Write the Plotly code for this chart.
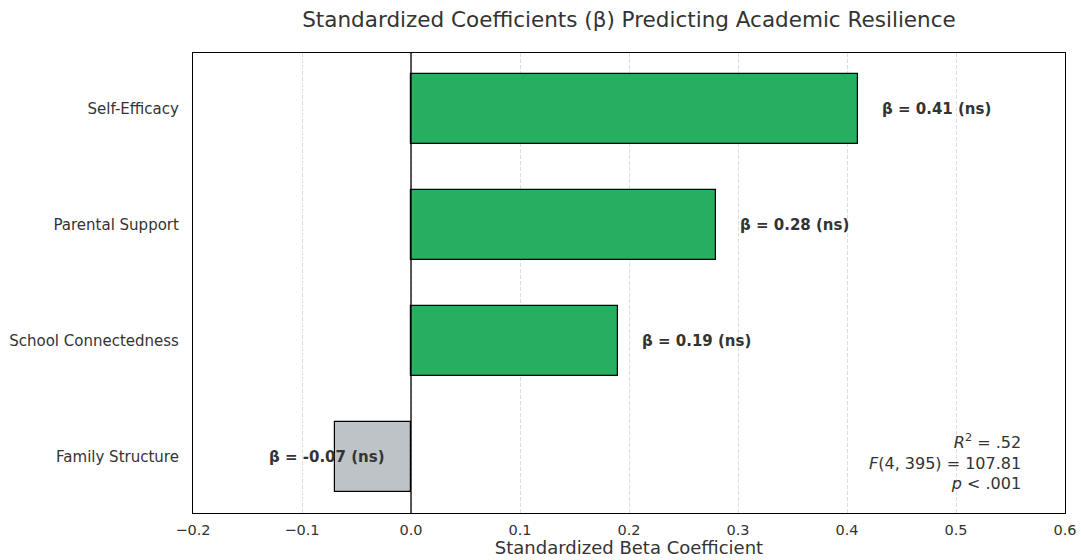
import plotly.graph_objects as go

predictors = ["Family Structure", "School Connectedness", "Parental Support", "Self-Efficacy"]
betas = [-0.07, 0.19, 0.28, 0.41]
sig_labels = ["ns", "ns", "ns", "ns"]
x_ticks = [-0.2, -0.1, 0.0, 0.1, 0.2, 0.3, 0.4, 0.5, 0.6]

POS_COLOR = "#27ae60"
NEG_COLOR = "#bdc3c7"
TEXT_COLOR = "#333333"
FONT = "DejaVu Sans"

colors = [POS_COLOR if b > 0 else NEG_COLOR for b in betas]

fig = go.Figure()
fig.add_trace(go.Bar(
    x=betas,
    y=predictors,
    orientation="h",
    width=0.6,
    marker=dict(color=colors, line=dict(color="black", width=1.2)),
    hoverinfo="x+y",
    showlegend=False,
))

# value labels beside each bar
annotations = []
for name, b, s in zip(predictors, betas, sig_labels):
    label = f"<b>β = {b:.2f} ({s})</b>"
    if b >= 0:
        annotations.append(dict(x=b + 0.02, y=name, text=label, xanchor="left",
                                yanchor="middle", showarrow=False,
                                font=dict(family=FONT, size=15, color=TEXT_COLOR)))
    else:
        annotations.append(dict(x=-0.022, y=name, text=label, xanchor="right",
                                yanchor="middle", showarrow=False,
                                font=dict(family=FONT, size=15, color=TEXT_COLOR)))

# model fit statistics
annotations.append(dict(
    x=0.952, y=0.04, xref="paper", yref="paper",
    text="<i>R</i><sup>2</sup> = .52<br><i>F</i>(4, 395) = 107.81<br><i>p</i> < .001",
    align="right", xanchor="right", yanchor="bottom", showarrow=False,
    font=dict(family=FONT, size=16, color=TEXT_COLOR),
))

fig.add_shape(type="line", x0=0, x1=0, y0=0, y1=1, xref="x", yref="paper",
              line=dict(color="black", width=1.3), layer="above")

fig.update_layout(
    width=1081, height=560,
    margin=dict(l=193, r=16, t=53, b=47),
    paper_bgcolor="white", plot_bgcolor="white",
    font=dict(family=FONT, size=15, color=TEXT_COLOR),
    title=dict(text="Standardized Coefficients (β) Predicting Academic Resilience",
               x=0.5, xref="paper", xanchor="center", y=0.965, yanchor="middle",
               font=dict(family=FONT, size=21.5, color=TEXT_COLOR)),
    annotations=annotations,
    bargap=0,
)
fig.update_xaxes(
    range=[-0.2, 0.6], tickvals=x_ticks,
    ticktext=[f"{t:.1f}".replace("-", "−") for t in x_ticks],
    showgrid=True, gridcolor="#dddddd", griddash="4px,2px", gridwidth=1,
    zeroline=False, showline=True, linecolor="black", linewidth=1.2, mirror=True,
    ticks="", ticklen=0, ticklabelstandoff=3, automargin=False,
    title=dict(text="Standardized Beta Coefficient", standoff=0,
               font=dict(family=FONT, size=18, color=TEXT_COLOR)),
    tickfont=dict(family=FONT, size=14.5, color=TEXT_COLOR),
)
fig.update_yaxes(
    type="category", categoryorder="array", categoryarray=predictors,
    range=[-0.48, 3.48],
    showgrid=False, zeroline=False, showline=True, linecolor="black",
    linewidth=1.2, mirror=True, ticks="", ticklen=0, ticklabelstandoff=10,
    automargin=False,
    tickfont=dict(family=FONT, size=15, color=TEXT_COLOR),
)

fig.write_html("out.html")
